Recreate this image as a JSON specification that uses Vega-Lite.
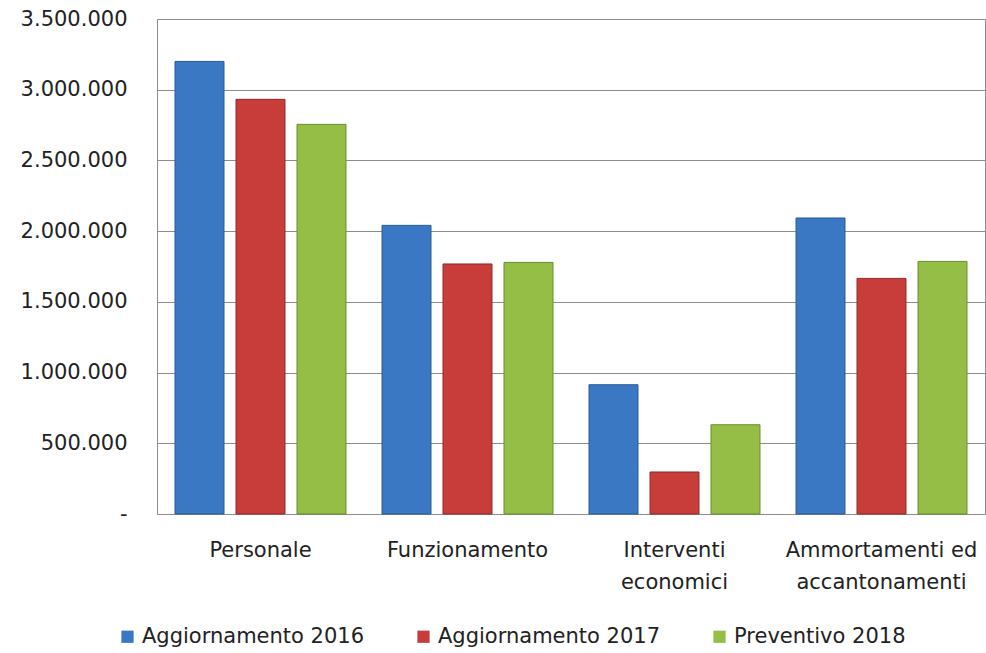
{
  "$schema": "https://vega.github.io/schema/vega-lite/v6.json",
  "width": 828,
  "height": 495,
  "autosize": {"type": "none"},
  "padding": {"left": 157, "top": 19, "right": 1, "bottom": 139},
  "background": "white",
  "config": {
    "locale": {"number": {"decimal": ",", "thousands": ".", "grouping": [3], "currency": ["€", ""]}},
    "view": {"stroke": "#8c8c8c", "strokeWidth": 1},
    "font": "DejaVu Sans"
  },
  "data": {
    "values": [
      {"voce": "Personale", "serie": "Aggiornamento 2016", "valore": 3200000},
      {"voce": "Personale", "serie": "Aggiornamento 2017", "valore": 2932000},
      {"voce": "Personale", "serie": "Preventivo 2018", "valore": 2755000},
      {"voce": "Funzionamento", "serie": "Aggiornamento 2016", "valore": 2041000},
      {"voce": "Funzionamento", "serie": "Aggiornamento 2017", "valore": 1768000},
      {"voce": "Funzionamento", "serie": "Preventivo 2018", "valore": 1779000},
      {"voce": "Interventi economici", "serie": "Aggiornamento 2016", "valore": 914000},
      {"voce": "Interventi economici", "serie": "Aggiornamento 2017", "valore": 297000},
      {"voce": "Interventi economici", "serie": "Preventivo 2018", "valore": 631000},
      {"voce": "Ammortamenti ed accantonamenti", "serie": "Aggiornamento 2016", "valore": 2093000},
      {"voce": "Ammortamenti ed accantonamenti", "serie": "Aggiornamento 2017", "valore": 1666000},
      {"voce": "Ammortamenti ed accantonamenti", "serie": "Preventivo 2018", "valore": 1786000}
    ]
  },
  "mark": {"type": "bar", "strokeWidth": 1},
  "encoding": {
    "x": {
      "field": "voce",
      "type": "nominal",
      "sort": ["Personale", "Funzionamento", "Interventi economici", "Ammortamenti ed accantonamenti"],
      "scale": {"paddingInner": 0.174, "paddingOuter": 0.087},
      "axis": {
        "title": null,
        "domain": false,
        "ticks": false,
        "labelAngle": 0,
        "labelFontSize": 21,
        "labelColor": "#222222",
        "labelPadding": 25,
        "labelLineHeight": 32,
        "labelLimit": 400,
        "labelExpr": "datum.label == 'Interventi economici' ? ['Interventi', 'economici'] : datum.label == 'Ammortamenti ed accantonamenti' ? ['Ammortamenti ed', 'accantonamenti'] : datum.label"
      }
    },
    "xOffset": {
      "field": "serie",
      "type": "nominal",
      "sort": ["Aggiornamento 2016", "Aggiornamento 2017", "Preventivo 2018"],
      "scale": {"paddingInner": 0.197, "paddingOuter": 0}
    },
    "y": {
      "field": "valore",
      "type": "quantitative",
      "scale": {"domain": [0, 3500000], "nice": false},
      "axis": {
        "title": null,
        "domain": false,
        "ticks": false,
        "values": [0, 500000, 1000000, 1500000, 2000000, 2500000, 3000000, 3500000],
        "format": ",d",
        "labelExpr": "datum.value == 0 ? '-\u00a0\u00a0' : datum.label",
        "labelFontSize": 21,
        "labelColor": "#222222",
        "labelPadding": 30,
        "grid": true,
        "gridColor": "#8c8c8c",
        "gridWidth": 1
      }
    },
    "color": {
      "field": "serie",
      "type": "nominal",
      "sort": ["Aggiornamento 2016", "Aggiornamento 2017", "Preventivo 2018"],
      "scale": {
        "domain": ["Aggiornamento 2016", "Aggiornamento 2017", "Preventivo 2018"],
        "range": ["#3A78C4", "#C83C3A", "#94BE46"]
      },
      "legend": {
        "title": null,
        "orient": "none",
        "direction": "horizontal",
        "legendX": -40,
        "legendY": 607,
        "symbolType": "square",
        "symbolSize": 150,
        "symbolStrokeWidth": 0,
        "labelFontSize": 21,
        "labelColor": "#222222",
        "labelLimit": 400,
        "labelOffset": 4,
        "columnPadding": 48
      }
    },
    "stroke": {
      "field": "serie",
      "type": "nominal",
      "scale": {
        "domain": ["Aggiornamento 2016", "Aggiornamento 2017", "Preventivo 2018"],
        "range": ["#2A5A95", "#8E2A28", "#6A8C2E"]
      },
      "legend": null
    }
  }
}
